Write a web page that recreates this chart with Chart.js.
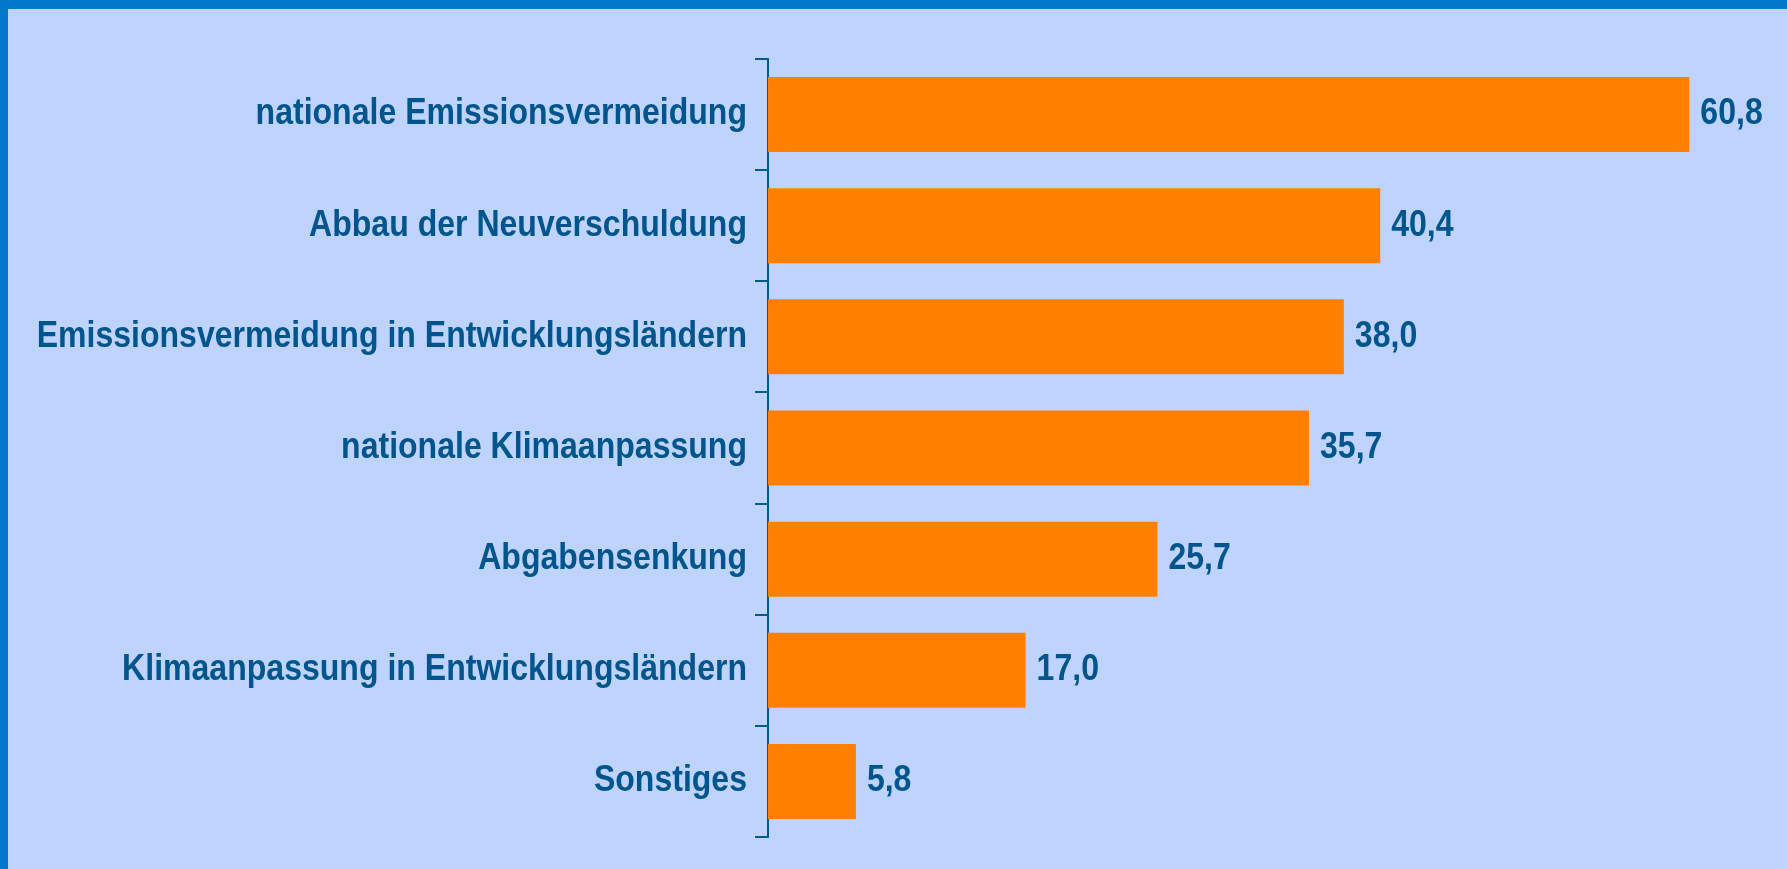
<!DOCTYPE html>
<html lang="de">
<head>
    <meta charset="UTF-8">
    <title>Verwendung der Einnahmen</title>
    <script src="https://cdn.jsdelivr.net/npm/chart.js"></script>
    <style>
        html, body { margin: 0; padding: 0; }
        body {
            width: 1779px;
            height: 860px;
            background: #BFD3FF;
            border-top: 9px solid #0077C8;
            border-left: 8px solid #0077C8;
            overflow: hidden;
        }
        .chart-box { position: relative; width: 1779px; height: 860px; }
    </style>
</head>
<body>

    <div class="chart-box">
        <canvas id="usageChart"></canvas>
    </div>

    <script>
        // Data
        const categories = [
            'nationale Emissionsvermeidung',
            'Abbau der Neuverschuldung',
            'Emissionsvermeidung in Entwicklungsländern',
            'nationale Klimaanpassung',
            'Abgabensenkung',
            'Klimaanpassung in Entwicklungsländern',
            'Sonstiges'
        ];
        const shares = [60.8, 40.4, 38.0, 35.7, 25.7, 17.0, 5.8];
        const valueLabels = ['60,8', '40,4', '38,0', '35,7', '25,7', '17,0', '5,8'];

        const textColor = '#00558C';
        const labelFont = "bold 36px 'Liberation Sans', Arial, sans-serif";
        const squeeze = 0.89; // the original uses a narrow font

        function narrowText(ctx, text, x, y, align) {
            ctx.save();
            ctx.translate(x, y);
            ctx.scale(squeeze, 1);
            ctx.textAlign = align;
            ctx.fillText(text, 0, 0);
            ctx.restore();
        }

        // category labels + value labels, drawn narrow
        const labelPlugin = {
            id: 'labelPlugin',
            afterDatasetsDraw(chart) {
                const ctx = chart.ctx;
                const yScale = chart.scales.y;
                const meta = chart.getDatasetMeta(0);
                ctx.save();
                ctx.fillStyle = textColor;
                ctx.font = labelFont;
                ctx.textBaseline = 'middle';
                chart.data.labels.forEach((label, i) => {
                    const y = yScale.getPixelForTick(i);
                    narrowText(ctx, label, yScale.right - 13 - 8, y, 'right');
                });
                meta.data.forEach((bar, i) => {
                    narrowText(ctx, valueLabels[i], bar.x + 11, bar.y, 'left');
                });
                ctx.restore();
            }
        };

        const ctx = document.getElementById('usageChart').getContext('2d');
        new Chart(ctx, {
            type: 'bar',
            data: {
                labels: categories,
                datasets: [{
                    data: shares,
                    backgroundColor: '#FF7F00',
                    categoryPercentage: 1,
                    barPercentage: 0.675
                }]
            },
            options: {
                indexAxis: 'y',
                responsive: true,
                maintainAspectRatio: false,
                animation: false,
                layout: { padding: { top: 50, bottom: 32, right: 34, left: 0 } },
                plugins: {
                    legend: { display: false },
                    tooltip: { enabled: false }
                },
                scales: {
                    x: {
                        display: false,
                        min: 0,
                        max: 65
                    },
                    y: {
                        afterFit(scale) { scale.width = 760; },
                        border: { display: true, color: '#005A8C', width: 2 },
                        grid: {
                            offset: true,
                            drawOnChartArea: false,
                            drawTicks: true,
                            tickLength: 13,
                            color: '#005A8C',
                            lineWidth: 2
                        },
                        ticks: { display: false }
                    }
                }
            },
            plugins: [labelPlugin]
        });
    </script>

</body>
</html>
